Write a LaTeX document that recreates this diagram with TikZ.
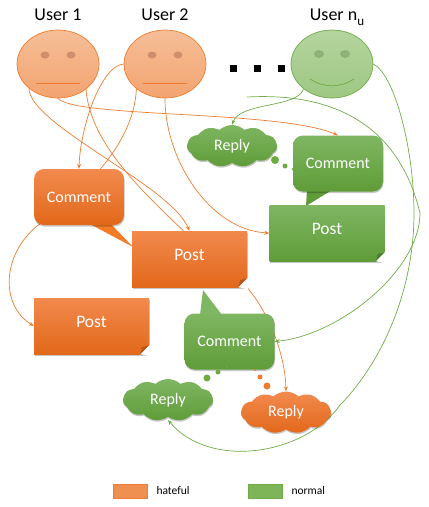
\documentclass[tikz,border=0pt]{standalone}
\usepackage{fontspec}
\setmainfont{Carlito}
\usetikzlibrary{arrows.meta,positioning,backgrounds,shapes.geometric,shapes.symbols,shadows}
\definecolor{hate}{HTML}{ED7D31}
\definecolor{hatetop}{HTML}{F28A4E}
\definecolor{hatemid}{HTML}{F57C26}
\definecolor{hatelow}{HTML}{E2681A}
\definecolor{hatedark}{HTML}{B5561C}
\definecolor{hateeye}{HTML}{CF8F6C}
\definecolor{norm}{HTML}{70AD47}
\definecolor{normtop}{HTML}{7FB662}
\definecolor{normmid}{HTML}{6CAC40}
\definecolor{normlow}{HTML}{5F9C38}
\definecolor{normdark}{HTML}{4C7D2E}
\definecolor{normeye}{HTML}{8DB27A}

\begin{document}
\begin{tikzpicture}[
  x=1pt,y=-1pt,
  font=\fontsize{16}{18}\selectfont,
  >={Stealth[length=5pt,width=4pt]},
  softshadow/.style={drop shadow={shadow xshift=0.5pt,shadow yshift=-1.5pt,opacity=0.22,fill=black}},
  hatefill/.style={top color=hatetop,middle color=hatemid,bottom color=hatelow,text=white},
  normfill/.style={top color=normtop,middle color=normmid,bottom color=normlow,text=white},
  face/.style={ellipse,draw,line width=0.7pt,minimum width=82pt,minimum height=68pt,inner sep=0pt},
  hateface/.style={face,draw=hate,top color=hate!50,bottom color=hate!70},
  normface/.style={face,draw=norm,top color=norm!52,bottom color=norm!68},
  eye/.style={ellipse,minimum width=9pt,minimum height=7pt,inner sep=0pt},
  username/.style={font=\fontsize{18}{20}\selectfont,inner sep=0pt,anchor=base},
  post/.style={softshadow,minimum width=115pt,minimum height=56pt,inner sep=0pt,text depth=8pt,font=\fontsize{17.5}{20}\selectfont},
  comment/.style={softshadow,rounded corners=10pt,minimum width=90pt,minimum height=56pt,inner sep=0pt},
  reply/.style={softshadow,cloud,cloud puffs=11,cloud puff arc=85,aspect=2.1,minimum width=90pt,minimum height=42pt,inner sep=0pt},
  legendbox/.style={minimum width=34pt,minimum height=14pt,inner sep=0pt,line width=0.6pt},
  legendtext/.style={font=\fontsize{11.5}{13}\selectfont,inner sep=0pt},
  hateline/.style={hate,line width=0.7pt},
  normline/.style={norm,line width=0.7pt},
]
\useasboundingbox (0,0) rectangle (429,507);

% ============ users ============
\node[username] (name1) at (58,20) {User 1};
\node[username] (name2) at (165,20) {User 2};
\node[username] (namen) at (337,20) {User n\raisebox{-5pt}{\fontsize{13}{13}\selectfont u}};
\node[hateface] (user1) at (58,64) {};
\node[hateface] (user2) at (165,64) {};
\node[normface] (usern) at (332,64) {};
\foreach \u in {user1,user2}{
  \node[eye,fill=hateeye] at ([xshift=-13pt,yshift=9pt]\u) {};
  \node[eye,fill=hateeye] at ([xshift=13pt,yshift=9pt]\u) {};
  \draw[hateline] ([xshift=-22pt,yshift=-19pt]\u.center) -- ([xshift=22pt,yshift=-19pt]\u.center);
}
\node[eye,fill=normeye,minimum width=10pt,minimum height=8pt] at ([xshift=-13pt,yshift=10pt]usern) {};
\node[eye,fill=normeye,minimum width=10pt,minimum height=8pt] at ([xshift=13pt,yshift=10pt]usern) {};
\draw[normline] ([xshift=-22pt,yshift=-15pt]usern.center) .. controls ([xshift=-8pt,yshift=-24pt]usern.center) and ([xshift=8pt,yshift=-24pt]usern.center) .. ([xshift=22pt,yshift=-15pt]usern.center);
\foreach \x in {233,257,281}
  \fill[black] (\x-3.5,64.5) rectangle (\x+3.5,71.5);

% ============ posts and comments ============
\fill[normlow] (307,190) -- (306,206) -- (332,190) -- cycle;
\fill[hatemid] (88,223) -- (133,247) -- (110,223) -- cycle;
\fill[normtop] (200,315) -- (203,290) -- (222,315) -- cycle;
\node[comment,normfill] (commentb) at (338,163.5) {Comment};
\node[post,normfill] (postb) at (327,233) {Post};
\node[comment,hatefill] (commenta) at (79,197) {Comment};
\node[post,hatefill] (posta) at (189.5,259) {Post};
\node[post,hatefill] (postc) at (91.5,326) {Post};
\node[comment,normfill] (commentc) at (229.5,341.5) {Comment};
\foreach \p/\c in {postb/normdark,posta/hatedark,postc/hatedark}{
  \fill[white] ([xshift=-9pt]\p.south east) -- ([yshift=-2pt]\p.south east) -- ([xshift=1pt,yshift=-2pt]\p.south east) -- ([xshift=1pt,yshift=9pt]\p.south east) -- ([yshift=9pt]\p.south east) -- cycle;
  \fill[\c] ([xshift=-9pt]\p.south east) -- ([yshift=9pt]\p.south east) -- ([xshift=-7pt,yshift=7pt]\p.south east) -- cycle;
}

% ============ replies ============
\node[reply,normfill] (replyb) at (232,146) {Reply};
\node[reply,normfill] (replyc) at (168,400) {Reply};
\node[reply,hatefill] (replya) at (286,412.5) {Reply};
\foreach \x/\y/\r in {275/160/4,285/166/2.5,293/169/1.5,207/378/3.5,218/372/2.5,227/367/1}
  \fill[normmid] (\x,\y) circle (\r);
\foreach \x/\y/\r in {267/386/3.5,260/377/2.5,255/370/1}
  \fill[hate] (\x,\y) circle (\r);

% ============ connectors ============
\coordinate (startn) at (247,97);
\coordinate (bendb) at (420,213);
\coordinate (bendc) at (414,213);
\coordinate (bendd) at (340,405);
\begin{scope}[on background layer]
\draw[hateline,->] (user1.220) .. controls (30,125) and (170,185) .. (posta.north);
\draw[hateline] (user1.-42) .. controls (90,140) and (135,185) .. ([xshift=-6pt]posta.north);
\draw[hateline,->] (user1.south) .. controls (75,118) and (280,110) .. (commentb.north);
\draw[hateline,->] (user2.west) .. controls (100,66) and (80,130) .. (commenta.north);
\draw[hateline,->] (user2.221) .. controls (134,135) and (100,180) .. (37,226) .. controls (2,255) and (0,305) .. (postc.west);
\draw[hateline,->] (user2.south) .. controls (165,160) and (210,230) .. (postb.west);
\draw[hateline,->] ([xshift=-5pt,yshift=5pt]posta.south east) .. controls (265,305) and (285,350) .. (replya.north);
\draw[normline,->] (usern.221) .. controls (298,108) and (240,102) .. (replyb.north);
\draw[normline] (startn) .. controls (340,92) and (400,130) .. (bendb);
\draw[normline,->] (bendb) .. controls (420,270) and (340,335) .. (commentc.east);
\draw[normline] (usern.east) .. controls (395,75) and (414,150) .. (bendc);
\draw[normline] (bendc) .. controls (414,300) and (375,370) .. (bendd);
\draw[normline,->] (bendd) .. controls (305,455) and (210,470) .. ([yshift=-3pt]replyc.south);
\end{scope}

% ============ legend ============
\node[legendbox,draw=hate,fill=hate!85] (keyhate) at (130,491) {};
\node[legendtext,right=9pt of keyhate] (labelhate) {hateful};
\node[legendbox,draw=norm,fill=norm!90] (keynorm) at (265,491) {};
\node[legendtext,right=9pt of keynorm] (labelnorm) {normal};

\end{tikzpicture}
\end{document}
